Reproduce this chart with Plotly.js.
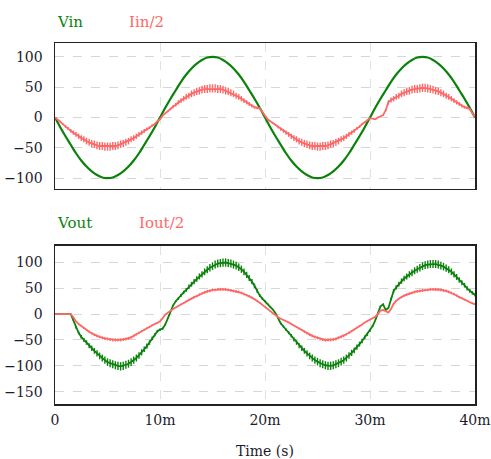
<!DOCTYPE html>
<html>
<head>
<meta charset="utf-8">
<script src="https://cdn.plot.ly/plotly-3.0.1.min.js"></script>
<style>html,body{margin:0;padding:0;background:#fff;}#chart{width:491px;height:459px;}</style>
</head>
<body>
<div id="chart"></div>
<script>
// time step of the sampled waveforms (seconds)
const vinStart = 0, vinStep = 0.0005;
const rippleStart = 0, rippleStep = 0.00025;

// Vin (V), sampled every 0.5 ms, 0..40 ms
const vin = [0,-16,-31,-45,-59,-71,-81,-89,-95,-99,-100,
  -99,-95,-89,-81,-71,-59,-45,-31,-16,0,
  16,31,45,59,71,81,89,95,99,100,
  99,95,89,81,71,59,45,31,16,0,
  -16,-31,-45,-59,-71,-81,-89,-95,-99,-100,
  -99,-95,-89,-81,-71,-59,-45,-31,-16,0,
  16,31,45,59,71,81,89,95,99,100,
  99,95,89,81,71,59,45,31,16,0];

// Iin/2 (A), sampled every 0.25 ms
const iinHalf = [0,-3,-7,-11,-15,-18,-22,-25,-28,-31,-34,-36,-39,-41,-43,-44,-46,-47,-47,-48,-48,
  -48,-47,-47,-46,-44,-43,-41,-39,-36,-34,-31,-28,-25,-22,-19,-17,-13,-11,-6,-3,
  3,7,10,14,18,21,25,28,31,34,36,39,41,43,44,46,47,47,48,48,
  48,47,47,46,44,43,41,39,36,34,31,28,25,22,19,17,16,15,9,2,
  -3,-6,-9,-12,-16,-19,-22,-25,-28,-31,-34,-36,-39,-41,-43,-44,-46,-47,-47,-48,
  -48,-47,-47,-46,-44,-43,-41,-39,-36,-34,-31,-28,-25,-22,-18,-15,-11,-8,-4,-1,
  -2,-3,0,2,4,12,25,29,31,34,36,39,41,43,44,46,47,47,48,49,
  49,48,47,46,44,43,41,39,36,34,31,28,25,22,19,17,16,14,7,1];

// Vout (V), sampled every 0.25 ms
const vout = [0,0,0,0,0,0,0,-12,-26,-36,-44,-50,-55,-61,-66,-71,-76,-81,-85,-89,-93,
  -95,-97,-99,-100,-101,-100,-98,-96,-93,-89,-85,-80,-74,-68,-62,-55,-47,-40,-33,-30,
  -28,-20,-8,5,17,25,30,36,42,47,53,58,63,68,73,77,82,86,90,93,
  96,98,99,100,100,99,98,96,94,91,87,82,76,70,63,55,45,36,30,25,
  20,14,9,2,-8,-18,-24,-30,-36,-42,-49,-55,-61,-66,-71,-76,-81,-85,-89,-92,
  -95,-97,-99,-100,-100,-99,-97,-95,-92,-89,-85,-80,-75,-70,-64,-58,-52,-45,-39,-32,
  -23,-12,2,15,19,8,12,30,45,52,58,64,69,73,77,80,84,87,90,93,
  95,96,97,97,97,96,94,92,89,86,82,77,72,66,61,56,50,45,41,37];

// Iout/2 (A), sampled every 0.25 ms
const ioutHalf = [0,0,0,0,0,0,0,-6,-14,-19,-23,-27,-31,-34,-37,-40,-42,-44,-46,-47,-48,
  -49,-50,-50,-50,-50,-49,-48,-47,-45,-42,-39,-36,-33,-30,-27,-24,-21,-19,-17,-14,
  -8,-1,3,7,10,13,16,19,22,25,28,30,33,35,38,40,42,44,45,47,
  47,48,48,48,48,47,46,45,44,43,41,39,37,35,32,29,26,22,18,14,
  10,5,1,-3,-6,-9,-11,-14,-16,-19,-22,-25,-28,-31,-34,-37,-40,-42,-44,-46,
  -48,-49,-50,-50,-50,-49,-48,-46,-44,-42,-39,-36,-33,-30,-26,-23,-20,-16,-13,-10,
  -7,-5,0,7,8,5,3,10,20,26,30,33,36,38,40,41,43,44,45,46,
  47,47,48,48,48,48,47,46,45,43,41,39,36,33,31,28,26,23,21,19];

const xTickVals = [0, 0.01, 0.02, 0.03, 0.04];
const xTickText = ['0', '10m', '20m', '30m', '40m'];
const yTopTicks = [-100, -50, 0, 50, 100];
const yBotTicks = [-150, -100, -50, 0, 50, 100];
const seriesNames = ['Vin', 'Iin/2', 'Vout', 'Iout/2'];

const GREEN = '#0a820a';
const RED = '#ff6666';
const FONT = '"DejaVu Serif", serif';
const FS = 14;
const LFS = 15;

const traces = [
  {x0: vinStart, dx: vinStep, y: vin, xaxis: 'x', yaxis: 'y', type: 'scatter', mode: 'lines',
   line: {color: GREEN, width: 2.2, shape: 'spline'}, name: seriesNames[0]},
  {x0: rippleStart, dx: rippleStep, y: iinHalf, xaxis: 'x', yaxis: 'y', type: 'scatter', mode: 'lines',
   line: {color: RED, width: 1.8}, name: seriesNames[1],
   error_y: {type: 'percent', value: 14, color: RED, thickness: 1.4, width: 0}},
  {x0: rippleStart, dx: rippleStep, y: vout, xaxis: 'x2', yaxis: 'y2', type: 'scatter', mode: 'lines',
   line: {color: GREEN, width: 1.8}, name: seriesNames[2],
   error_y: {type: 'percent', value: 8, color: GREEN, thickness: 1.4, width: 0}},
  {x0: rippleStart, dx: rippleStep, y: ioutHalf, xaxis: 'x2', yaxis: 'y2', type: 'scatter', mode: 'lines',
   line: {color: RED, width: 1.8}, name: seriesNames[3],
   error_y: {type: 'percent', value: 6, color: RED, thickness: 1.3, width: 0}}
];

const axisCommon = {
  showline: true, mirror: true, linecolor: '#222', linewidth: 1.5,
  zeroline: false, ticks: '', showgrid: true, griddash: 'dash',
  tickfont: {family: FONT, size: FS, color: '#1c1c2c'}
};

const layout = {
  width: 491, height: 459,
  margin: {l: 55, r: 16, t: 43, b: 55},
  paper_bgcolor: '#fff', plot_bgcolor: '#fff',
  showlegend: false,
  font: {family: FONT, size: FS, color: '#1c1c2c'},
  xaxis: Object.assign({}, axisCommon, {
    domain: [0, 1], anchor: 'y', range: [0, 0.04], tickvals: xTickVals, ticktext: xTickText,
    showticklabels: false, gridcolor: '#dce6d6'
  }),
  yaxis: Object.assign({}, axisCommon, {
    domain: [0.5956, 1], anchor: 'x', range: [-118, 123], tickvals: yTopTicks,
    gridcolor: '#d6d6d6', ticklabelstandoff: 8
  }),
  xaxis2: Object.assign({}, axisCommon, {
    domain: [0, 1], anchor: 'y2', range: [0, 0.04], tickvals: xTickVals, ticktext: xTickText,
    gridcolor: '#dce6d6', ticklabelstandoff: 3,
    title: {text: 'Time (s)', font: {family: FONT, size: FS, color: '#1c1c2c'}, standoff: 20}
  }),
  yaxis2: Object.assign({}, axisCommon, {
    domain: [0, 0.4377], anchor: 'x2', range: [-174, 132], tickvals: yBotTicks,
    gridcolor: '#d6d6d6', ticklabelstandoff: 8
  }),
  annotations: [
    {text: seriesNames[0], xref: 'paper', yref: 'paper', x: 0, y: 1.058, xanchor: 'left', yanchor: 'middle',
     showarrow: false, font: {family: FONT, size: LFS, color: GREEN}},
    {text: seriesNames[1], xref: 'paper', yref: 'paper', x: 0.1714, y: 1.058, xanchor: 'left', yanchor: 'middle',
     showarrow: false, font: {family: FONT, size: LFS, color: RED}},
    {text: seriesNames[2], xref: 'paper', yref: 'paper', x: 0, y: 0.5014, xanchor: 'left', yanchor: 'middle',
     showarrow: false, font: {family: FONT, size: LFS, color: GREEN}},
    {text: seriesNames[3], xref: 'paper', yref: 'paper', x: 0.195, y: 0.5014, xanchor: 'left', yanchor: 'middle',
     showarrow: false, font: {family: FONT, size: LFS, color: RED}}
  ]
};

Plotly.newPlot('chart', traces, layout, {staticPlot: true, displayModeBar: false});
</script>
</body>
</html>
